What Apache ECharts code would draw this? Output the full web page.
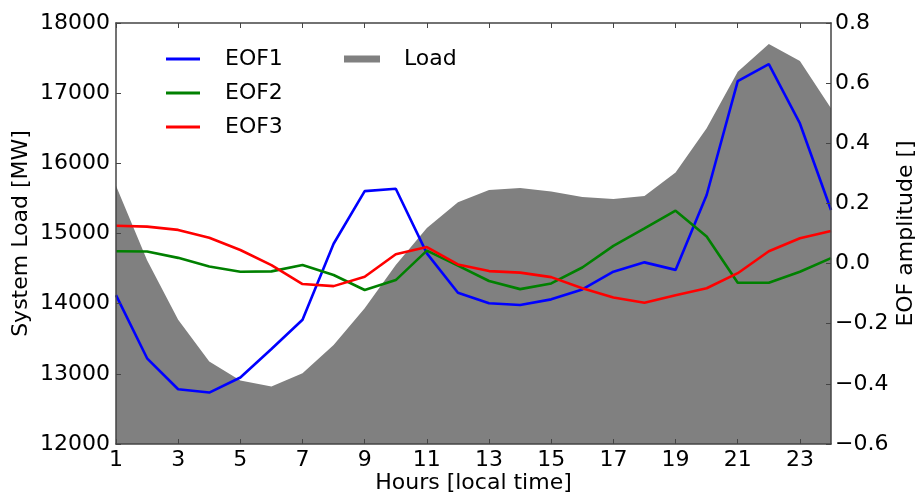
<!DOCTYPE html>
<html>
<head>
<meta charset="utf-8">
<script src="https://cdn.jsdelivr.net/npm/echarts@6/dist/echarts.min.js"></script>
<style>
  html, body { margin: 0; padding: 0; background: #fff; }
  #chart { width: 915px; height: 496px; }
</style>
</head>
<body>
<div id="chart"></div>
<script>
// Hours of the day
const hours = [1, 2, 3, 4, 5, 6, 7, 8, 9, 10, 11, 12, 13, 14, 15, 16, 17, 18, 19, 20, 21, 22, 23, 24];

// Mean system load per hour [MW]
const load = [15680, 14620, 13770, 13175, 12905, 12820, 13010, 13410, 13935, 14550,
              15080, 15445, 15620, 15650, 15600, 15520, 15490, 15535, 15870, 16500,
              17305, 17700, 17460, 16785];

// EOF amplitudes per hour
const eof1 = [-0.105, -0.315, -0.418, -0.429, -0.379, -0.284, -0.187, 0.066, 0.241, 0.249,
              0.034, -0.097, -0.132, -0.138, -0.119, -0.086, -0.027, 0.004, -0.021, 0.228,
              0.607, 0.663, 0.466, 0.178];
const eof2 = [0.041, 0.040, 0.019, -0.010, -0.027, -0.026, -0.005, -0.038, -0.088, -0.055,
              0.043, -0.007, -0.058, -0.085, -0.066, -0.013, 0.059, 0.117, 0.176, 0.090,
              -0.064, -0.064, -0.027, 0.018];
const eof3 = [0.126, 0.123, 0.112, 0.086, 0.045, -0.005, -0.068, -0.075, -0.044, 0.031,
              0.055, -0.003, -0.025, -0.030, -0.045, -0.082, -0.113, -0.130, -0.105, -0.082,
              -0.032, 0.041, 0.084, 0.108];

const FONT = 'DejaVu Sans';
const AXIS_COLOR = '#444';
const TXT = { color: '#000', fontFamily: FONT, fontSize: 22 };

const chart = echarts.init(document.getElementById('chart'), null, { renderer: 'canvas' });

function signed(v) {
  if (Math.abs(v) < 1e-9) v = 0;
  return v.toFixed(1).replace('-', '\u2212');
}

function plain(v) {
  return String(Math.round(v));
}

chart.setOption({
  animation: false,
  backgroundColor: '#fff',
  grid: { left: 116, right: 84, top: 23, bottom: 52, containLabel: false, outerBoundsMode: 'none' },
  legend: [
    {
      orient: 'vertical',
      left: 161,
      top: 43,
      itemWidth: 34,
      itemHeight: 3,
      itemGap: 12,
      icon: 'rect',
      textStyle: Object.assign({}, TXT, { lineHeight: 22, padding: [0, 0, 0, 20] }),
      data: ['EOF1', 'EOF2', 'EOF3']
    },
    {
      orient: 'vertical',
      left: 339,
      top: 43,
      itemWidth: 36,
      itemHeight: 7,
      icon: 'rect',
      textStyle: Object.assign({}, TXT, { lineHeight: 22, padding: [0, 0, 0, 19] }),
      data: ['Load']
    }
  ],
  xAxis: [
    {
      type: 'category',
      data: hours,
      boundaryGap: false,
      position: 'bottom',
      z: 10,
      name: 'Hours [local time]',
      nameLocation: 'middle',
      nameGap: 28,
      nameMoveOverlap: false,
      nameTextStyle: Object.assign({}, TXT),
      axisLine: { show: true, onZero: false, lineStyle: { color: AXIS_COLOR, width: 1.5 } },
      axisTick: { show: true, inside: true, length: 5, interval: 1, lineStyle: { color: AXIS_COLOR } },
      axisLabel: Object.assign({ interval: 1, margin: 5 }, TXT),
      splitLine: { show: false }
    },
    {
      type: 'category',
      data: hours,
      boundaryGap: false,
      position: 'top',
      z: 10,
      axisLine: { show: true, onZero: false, lineStyle: { color: AXIS_COLOR, width: 1.5 } },
      axisTick: { show: true, inside: true, length: 5, interval: 1, lineStyle: { color: AXIS_COLOR } },
      axisLabel: { show: false },
      splitLine: { show: false }
    }
  ],
  yAxis: [
    {
      type: 'value',
      position: 'left',
      min: 12000,
      max: 18000,
      interval: 1000,
      z: 10,
      name: 'System Load [MW]',
      nameLocation: 'middle',
      nameGap: 84,
      nameMoveOverlap: false,
      nameTextStyle: Object.assign({}, TXT),
      axisLine: { show: true, onZero: false, lineStyle: { color: AXIS_COLOR, width: 1.5 } },
      axisTick: { show: true, inside: true, length: 5, lineStyle: { color: AXIS_COLOR } },
      axisLabel: Object.assign({ margin: 6, formatter: plain }, TXT),
      splitLine: { show: false }
    },
    {
      type: 'value',
      position: 'right',
      min: -0.6,
      max: 0.8,
      interval: 0.2,
      z: 10,
      name: 'EOF amplitude []',
      nameLocation: 'middle',
      nameRotate: 90,
      nameGap: 64,
      nameMoveOverlap: false,
      nameTextStyle: Object.assign({}, TXT),
      axisLine: { show: true, onZero: false, lineStyle: { color: AXIS_COLOR, width: 1.5 } },
      axisTick: { show: true, inside: true, length: 5, lineStyle: { color: AXIS_COLOR } },
      axisLabel: Object.assign({ margin: 4, formatter: signed }, TXT),
      splitLine: { show: false }
    }
  ],
  series: [
    {
      name: 'Load',
      type: 'line',
      xAxisIndex: 0,
      yAxisIndex: 0,
      data: load,
      symbol: 'none',
      color: '#808080',
      lineStyle: { width: 0, color: '#808080' },
      areaStyle: { color: '#808080', opacity: 1, origin: 'start' },
      z: 1
    },
    {
      name: 'EOF1',
      type: 'line',
      xAxisIndex: 0,
      yAxisIndex: 1,
      data: eof1,
      symbol: 'none',
      color: '#0000ff',
      lineStyle: { width: 2.6, color: '#0000ff' },
      z: 3
    },
    {
      name: 'EOF2',
      type: 'line',
      xAxisIndex: 0,
      yAxisIndex: 1,
      data: eof2,
      symbol: 'none',
      color: '#008000',
      lineStyle: { width: 2.6, color: '#008000' },
      z: 3
    },
    {
      name: 'EOF3',
      type: 'line',
      xAxisIndex: 0,
      yAxisIndex: 1,
      data: eof3,
      symbol: 'none',
      color: '#ff0000',
      lineStyle: { width: 2.6, color: '#ff0000' },
      z: 3
    }
  ]
});
</script>
</body>
</html>
